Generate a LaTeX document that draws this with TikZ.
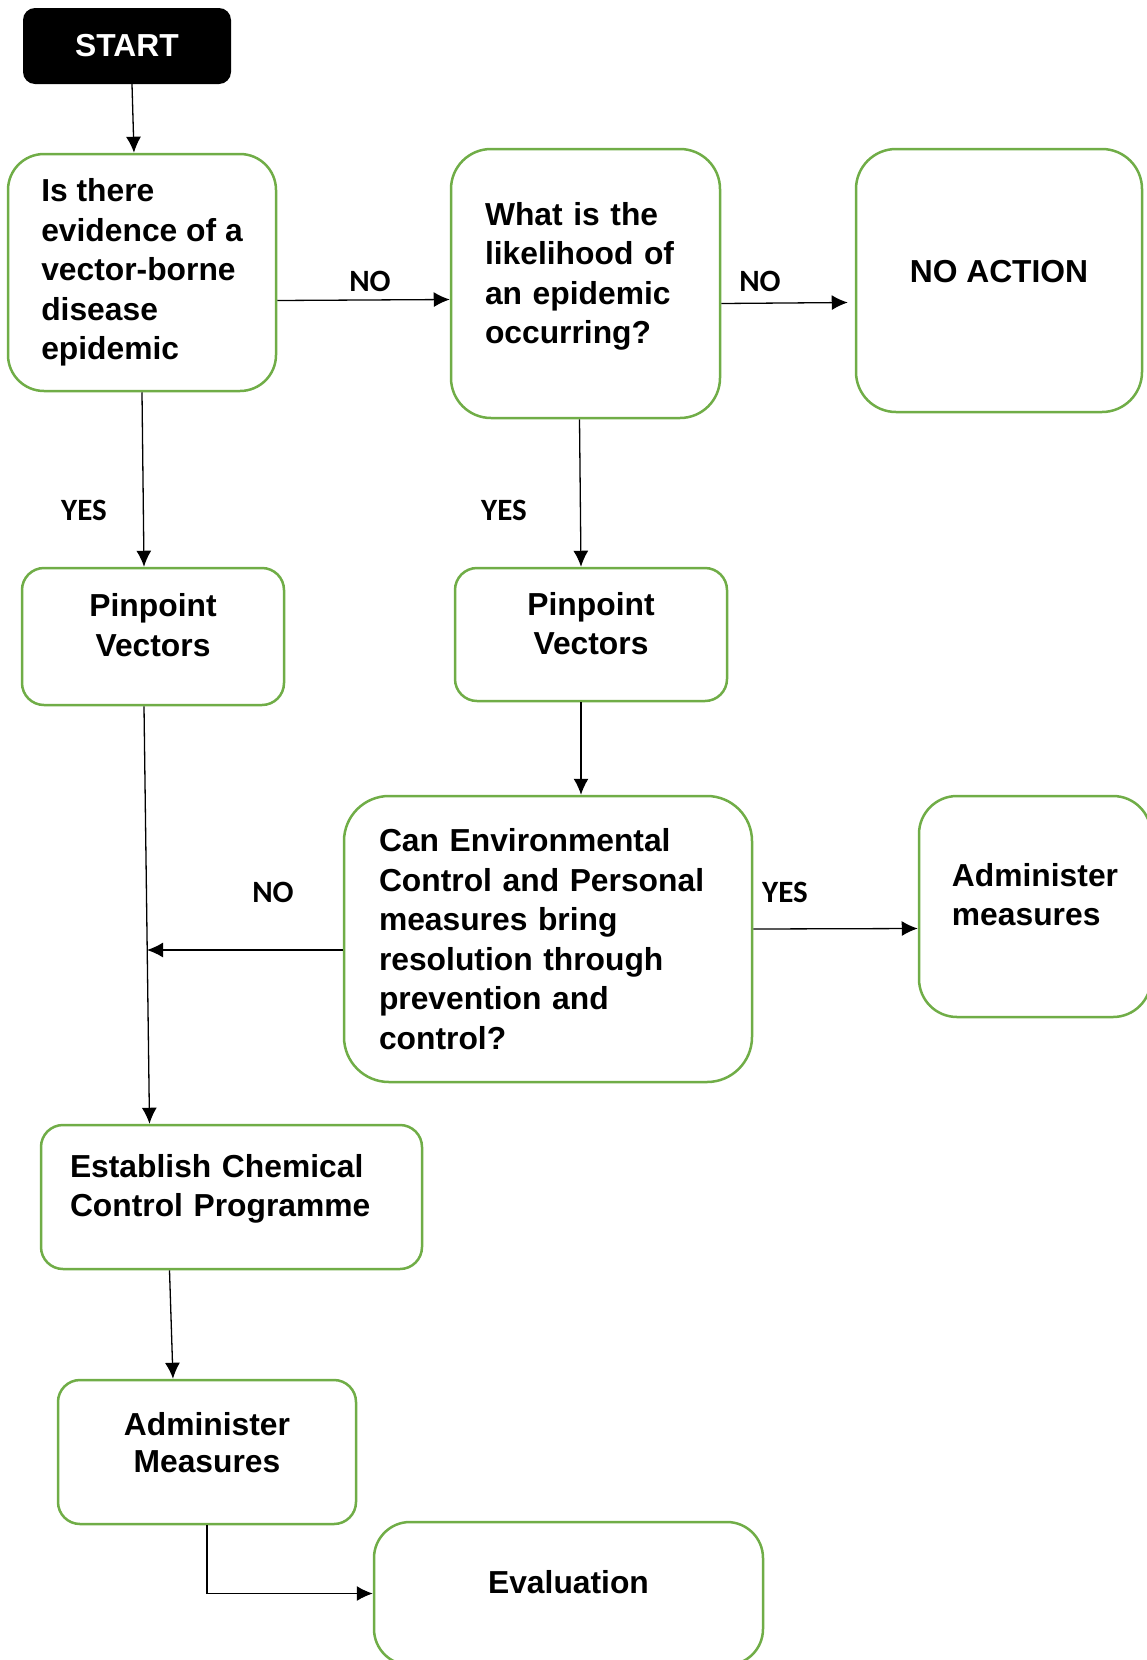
\documentclass[tikz,border=0pt]{standalone}
\usepackage{fontspec}
\setmainfont{Liberation Sans}
\newfontfamily\lblfont{Carlito}
\definecolor{boxgreen}{HTML}{70AD47}
\tikzstyle{block} = [draw=boxgreen, line width=2.5pt, rounded corners=36pt, align=left, fill=white, font=\fontsize{31.8}{39.5}\selectfont\bfseries]
\tikzstyle{blockS} = [block, rounded corners=22pt, align=center]
\tikzstyle{startS} = [fill=black, text=white, rounded corners=12pt, font=\fontsize{31.8}{39.5}\selectfont\bfseries]
\tikzstyle{arrow} = [draw, line width=1.3pt, -{Latex[length=16pt,width=15pt]}]
\tikzstyle{lbl} = [font=\lblfont\fontsize{31}{33}\selectfont\bfseries]
\usetikzlibrary{arrows.meta}
\usetikzlibrary{calc}

\begin{document}
\begin{tikzpicture}[x=1pt, y=-1pt]
    \useasboundingbox (0,0) rectangle (1146,1660);
    \node [startS, minimum width=208pt, minimum height=76pt] (start) at (127,46) {START};
    \node [block, minimum width=268pt, minimum height=237pt] (q1) at (142,272.5) {Is there\\evidence of a\\vector-borne\\disease\\epidemic};
    \node [block, minimum width=269pt, minimum height=269pt, rounded corners=40pt, text width=201pt, text depth=140pt] (q2) at (585.5,283.5) {What is the\\likelihood of\\an epidemic\\occurring?};
    \node [block, minimum width=286pt, minimum height=263pt, rounded corners=40pt, text depth=19pt] (noact) at (999,280.5) {NO ACTION};
    \node [blockS, minimum width=262pt, minimum height=137pt, text depth=23pt] (pin1) at (153,636.5) {Pinpoint\\Vectors};
    \node [blockS, minimum width=272pt, minimum height=133pt, text depth=22pt] (pin2) at (591,634.5) {Pinpoint\\Vectors};
    \node [block, minimum width=408pt, minimum height=286pt, rounded corners=45pt, text width=338pt] (env) at (548,939) {Can Environmental\\Control and Personal\\measures bring\\resolution through\\prevention and\\control?};
    \node [block, minimum width=232pt, minimum height=221pt, rounded corners=38pt, text depth=24pt] (adm2) at (1035,906.5) {Administer\\measures};
    \node [blockS, minimum width=381pt, minimum height=144pt, align=left, text width=323pt, text depth=63pt] (chem) at (231.5,1197) {Establish Chemical\\Control Programme};
    \node [blockS, minimum width=298pt, minimum height=144pt, font=\fontsize{31.8}{37}\selectfont\bfseries, text depth=20pt] (adm) at (207,1452) {Administer\\Measures};
    \node [block, minimum width=389pt, minimum height=143pt, text depth=23pt] (eval) at (568.5,1593.5) {Evaluation};

    \node [lbl] (no1) at (370,281) {NO};
    \node [lbl] (no2) at (760,281) {NO};
    \node [lbl] (yes1) at (84,510) {YES};
    \node [lbl] (yes2) at (504,510) {YES};
    \node [lbl] (yes3) at (785,892) {YES};
    \node [lbl] (no3) at (273,892) {NO};

    \draw [arrow] ([xshift=5pt]start.south) to ([xshift=-8pt]q1.north);
    \draw [arrow] ([yshift=-28pt]q1.east) to ([yshift=-16pt]q2.west);
    \draw [arrow] ([yshift=-20pt]q2.east) to ([xshift=-7pt,yshift=-22pt]noact.west);
    \draw [arrow] (q1.south) to ([xshift=-9pt]pin1.north);
    \draw [arrow] ([xshift=-6pt]q2.south) to ([xshift=-10pt]pin2.north);
    \draw [arrow] ([xshift=-10pt]pin2.south) to ([xshift=33pt]env.north);
    \draw [arrow] ([yshift=10pt]env.east) to ([yshift=-22pt]adm2.west);
    \draw [arrow] ([xshift=-9pt]pin1.south) to ([xshift=-82pt]chem.north);
    \draw [arrow] ([yshift=-11pt]env.west) to ($(pin1.south |- env.west)+(-6,11)$);
    \draw [arrow] ([xshift=-62pt]chem.south) to ([xshift=-34pt]adm.north);
    \draw [arrow] (adm.south) |- (eval.west);
\end{tikzpicture}
\end{document}
